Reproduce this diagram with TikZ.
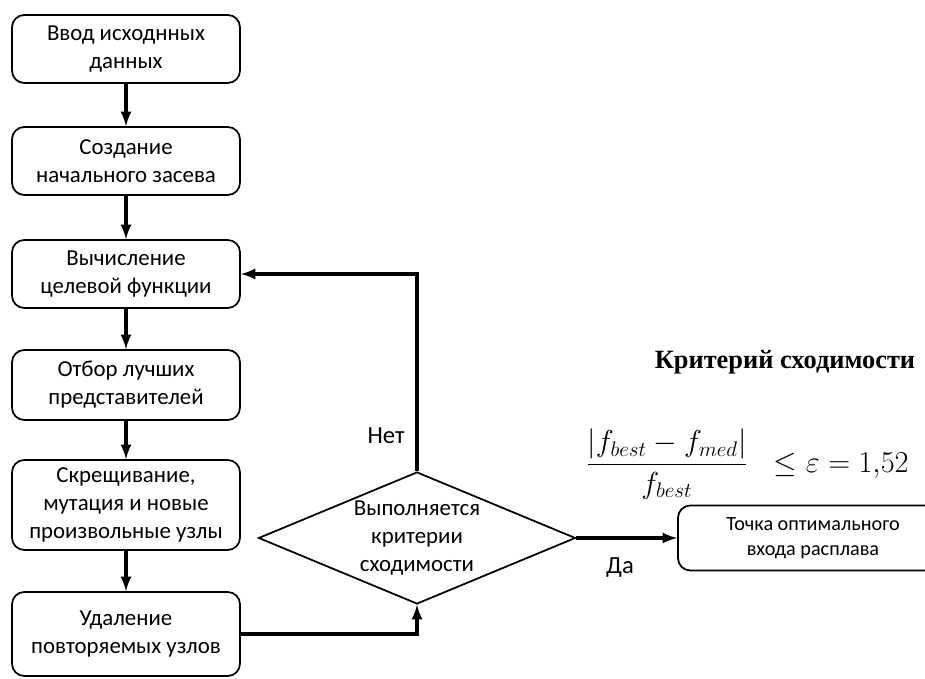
\documentclass[tikz,border=0pt]{standalone}
\usepackage{fontspec}
\setmainfont{Carlito}
\newfontfamily\titlefont{Liberation Serif}
\usepackage{amsmath, amssymb}
\usetikzlibrary{shapes}
\usetikzlibrary{positioning}
\tikzset{
  block/.style={draw, line width=1pt, rounded corners=7pt, minimum width=4.56cm,
    align=center, font=\fontsize{13}{16}\selectfont},
  check/.style={draw, diamond, line width=1pt, aspect=2.4, inner sep=0pt,
    minimum width=6.34cm, minimum height=2.64cm, align=center,
    font=\fontsize{13}{16}\selectfont},
}

\begin{document}
\begin{tikzpicture}[line/.style={->, >=latex, line width=1.8pt}]

        \useasboundingbox (0,0) rectangle (18.5,13.58);

        \node[block, minimum height=1.36cm] (input) at (2.52,12.6) {Ввод исходнных\\данных};
        \node[block, minimum height=1.36cm] (seed) at (2.52,10.36) {Создание\\начального засева};
        \node[block, minimum height=1.36cm] (fitness) at (2.52,8.1) {Вычисление\\целевой функции};
        \node[block, minimum height=1.4cm] (select) at (2.52,5.88) {Отбор лучших\\представителей};
        \node[block, minimum height=1.8cm] (cross) at (2.52,3.48) {Скрещивание,\\мутация и новые\\произвольные узлы};
        \node[block, minimum height=1.68cm] (remove) at (2.52,0.9) {Удаление\\повторяемых узлов};

        \node[check] (decide) at (8.34,2.82) {Выполняется\\критерии\\сходимости};
        \node[block, minimum width=5.4cm, minimum height=1.3cm, font=\fontsize{11.5}{14}\selectfont] (result) at (16.26,2.82) {Точка оптимального\\входа расплава};

        \draw[line] (input) -- (seed);
        \draw[line] (seed) -- (fitness);
        \draw[line] (fitness) -- (select);
        \draw[line] (select) -- (cross);
        \draw[line] (cross) -- (remove);
        \draw[line] (remove.east) -| (decide.south);
        \draw[line] (decide.north) |- (fitness.east);
        \draw[line] (decide.east) -- (result.west);

        \node[font=\fontsize{14}{16}\selectfont] (no) at (7.72,4.86) {Нет};
        \node[font=\fontsize{14}{16}\selectfont] (yes) at (12.4,2.22) {Да};

        \node[font=\titlefont\bfseries\fontsize{15}{18}\selectfont] (crit) at (15.7,6.34) {Критерий сходимости};
        \node[font=\fontsize{17}{20}\selectfont] (formula) at (14.94,4.3)
            {$\dfrac{|f_{best}-f_{med}|}{f_{best}}\;\;\le\varepsilon=1{,}52$};

\end{tikzpicture}
\end{document}
